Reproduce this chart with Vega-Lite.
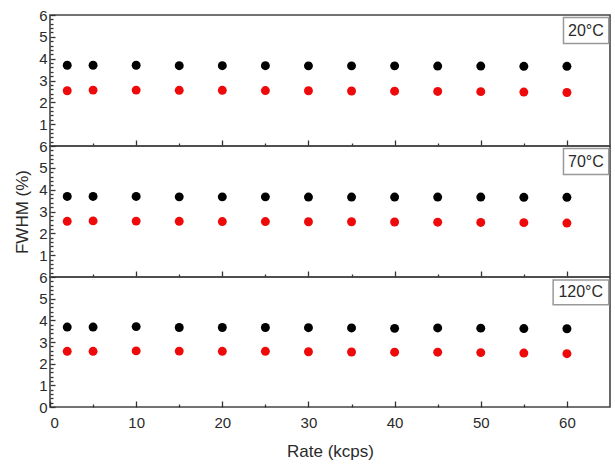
{
  "$schema": "https://vega.github.io/schema/vega-lite/v6.json",
  "autosize": {"type": "pad"},
  "padding": {"left": 12, "top": 7, "right": 2, "bottom": 3},
  "background": "white",
  "config": {
    "view": {"stroke": "#444", "strokeWidth": 1.6},
    "font": "Liberation Sans",
    "axis": {"labelFont": "Liberation Sans", "titleFont": "Liberation Sans", "labelColor": "#2a2a2a", "titleColor": "#2a2a2a", "labelFontSize": 15, "titleFontSize": 17, "titleFontWeight": "normal", "tickColor": "#333", "tickWidth": 1.3, "grid": false, "domain": false}
  },
  "datasets": {
    "pts": [
      {"T": "20°C", "series": "a", "rate": 2, "fwhm": 3.70},
      {"T": "20°C", "series": "a", "rate": 5, "fwhm": 3.70},
      {"T": "20°C", "series": "a", "rate": 10, "fwhm": 3.70},
      {"T": "20°C", "series": "a", "rate": 15, "fwhm": 3.68},
      {"T": "20°C", "series": "a", "rate": 20, "fwhm": 3.68},
      {"T": "20°C", "series": "a", "rate": 25, "fwhm": 3.68},
      {"T": "20°C", "series": "a", "rate": 30, "fwhm": 3.67},
      {"T": "20°C", "series": "a", "rate": 35, "fwhm": 3.67},
      {"T": "20°C", "series": "a", "rate": 40, "fwhm": 3.67},
      {"T": "20°C", "series": "a", "rate": 45, "fwhm": 3.66},
      {"T": "20°C", "series": "a", "rate": 50, "fwhm": 3.66},
      {"T": "20°C", "series": "a", "rate": 55, "fwhm": 3.65},
      {"T": "20°C", "series": "a", "rate": 60, "fwhm": 3.65},
      {"T": "20°C", "series": "b", "rate": 2, "fwhm": 2.53},
      {"T": "20°C", "series": "b", "rate": 5, "fwhm": 2.56},
      {"T": "20°C", "series": "b", "rate": 10, "fwhm": 2.56},
      {"T": "20°C", "series": "b", "rate": 15, "fwhm": 2.55},
      {"T": "20°C", "series": "b", "rate": 20, "fwhm": 2.55},
      {"T": "20°C", "series": "b", "rate": 25, "fwhm": 2.54},
      {"T": "20°C", "series": "b", "rate": 30, "fwhm": 2.53},
      {"T": "20°C", "series": "b", "rate": 35, "fwhm": 2.52},
      {"T": "20°C", "series": "b", "rate": 40, "fwhm": 2.51},
      {"T": "20°C", "series": "b", "rate": 45, "fwhm": 2.50},
      {"T": "20°C", "series": "b", "rate": 50, "fwhm": 2.49},
      {"T": "20°C", "series": "b", "rate": 55, "fwhm": 2.47},
      {"T": "20°C", "series": "b", "rate": 60, "fwhm": 2.45},
      {"T": "70°C", "series": "a", "rate": 2, "fwhm": 3.69},
      {"T": "70°C", "series": "a", "rate": 5, "fwhm": 3.69},
      {"T": "70°C", "series": "a", "rate": 10, "fwhm": 3.69},
      {"T": "70°C", "series": "a", "rate": 15, "fwhm": 3.67},
      {"T": "70°C", "series": "a", "rate": 20, "fwhm": 3.67},
      {"T": "70°C", "series": "a", "rate": 25, "fwhm": 3.67},
      {"T": "70°C", "series": "a", "rate": 30, "fwhm": 3.66},
      {"T": "70°C", "series": "a", "rate": 35, "fwhm": 3.66},
      {"T": "70°C", "series": "a", "rate": 40, "fwhm": 3.66},
      {"T": "70°C", "series": "a", "rate": 45, "fwhm": 3.66},
      {"T": "70°C", "series": "a", "rate": 50, "fwhm": 3.66},
      {"T": "70°C", "series": "a", "rate": 55, "fwhm": 3.65},
      {"T": "70°C", "series": "a", "rate": 60, "fwhm": 3.65},
      {"T": "70°C", "series": "b", "rate": 2, "fwhm": 2.55},
      {"T": "70°C", "series": "b", "rate": 5, "fwhm": 2.57},
      {"T": "70°C", "series": "b", "rate": 10, "fwhm": 2.56},
      {"T": "70°C", "series": "b", "rate": 15, "fwhm": 2.55},
      {"T": "70°C", "series": "b", "rate": 20, "fwhm": 2.54},
      {"T": "70°C", "series": "b", "rate": 25, "fwhm": 2.54},
      {"T": "70°C", "series": "b", "rate": 30, "fwhm": 2.53},
      {"T": "70°C", "series": "b", "rate": 35, "fwhm": 2.53},
      {"T": "70°C", "series": "b", "rate": 40, "fwhm": 2.52},
      {"T": "70°C", "series": "b", "rate": 45, "fwhm": 2.51},
      {"T": "70°C", "series": "b", "rate": 50, "fwhm": 2.50},
      {"T": "70°C", "series": "b", "rate": 55, "fwhm": 2.49},
      {"T": "70°C", "series": "b", "rate": 60, "fwhm": 2.47},
      {"T": "120°C", "series": "a", "rate": 2, "fwhm": 3.69},
      {"T": "120°C", "series": "a", "rate": 5, "fwhm": 3.69},
      {"T": "120°C", "series": "a", "rate": 10, "fwhm": 3.71},
      {"T": "120°C", "series": "a", "rate": 15, "fwhm": 3.67},
      {"T": "120°C", "series": "a", "rate": 20, "fwhm": 3.67},
      {"T": "120°C", "series": "a", "rate": 25, "fwhm": 3.67},
      {"T": "120°C", "series": "a", "rate": 30, "fwhm": 3.66},
      {"T": "120°C", "series": "a", "rate": 35, "fwhm": 3.65},
      {"T": "120°C", "series": "a", "rate": 40, "fwhm": 3.63},
      {"T": "120°C", "series": "a", "rate": 45, "fwhm": 3.65},
      {"T": "120°C", "series": "a", "rate": 50, "fwhm": 3.64},
      {"T": "120°C", "series": "a", "rate": 55, "fwhm": 3.62},
      {"T": "120°C", "series": "a", "rate": 60, "fwhm": 3.61},
      {"T": "120°C", "series": "b", "rate": 2, "fwhm": 2.57},
      {"T": "120°C", "series": "b", "rate": 5, "fwhm": 2.57},
      {"T": "120°C", "series": "b", "rate": 10, "fwhm": 2.59},
      {"T": "120°C", "series": "b", "rate": 15, "fwhm": 2.58},
      {"T": "120°C", "series": "b", "rate": 20, "fwhm": 2.57},
      {"T": "120°C", "series": "b", "rate": 25, "fwhm": 2.57},
      {"T": "120°C", "series": "b", "rate": 30, "fwhm": 2.55},
      {"T": "120°C", "series": "b", "rate": 35, "fwhm": 2.54},
      {"T": "120°C", "series": "b", "rate": 40, "fwhm": 2.53},
      {"T": "120°C", "series": "b", "rate": 45, "fwhm": 2.53},
      {"T": "120°C", "series": "b", "rate": 50, "fwhm": 2.51},
      {"T": "120°C", "series": "b", "rate": 55, "fwhm": 2.49},
      {"T": "120°C", "series": "b", "rate": 60, "fwhm": 2.46}
    ]
  },
  "vconcat": [
    {
      "width": 560, "height": 131,
      "resolve": {"axis": {"x": "independent", "y": "independent"}},
      "layer": [
        {
          "data": {"name": "pts"},
          "transform": [{"filter": "datum.T == '20°C'"}],
          "mark": {"type": "point", "filled": true, "size": 80, "opacity": 1},
          "encoding": {
            "x": {"field": "rate", "type": "quantitative", "scale": {"domain": [0, 65], "nice": false}, "axis": {"orient": "bottom", "values": [10, 20, 30, 40, 50, 60], "labels": false, "tickSize": -6, "title": null}},
            "y": {"field": "fwhm", "type": "quantitative", "scale": {"domain": [0, 6], "nice": false}, "axis": {"orient": "left", "values": [1, 2, 3, 4, 5, 6], "tickSize": -5, "labelPadding": 8, "title": null}},
            "color": {"field": "series", "type": "nominal", "scale": {"domain": ["a", "b"], "range": ["#000000", "#ee0a0a"]}, "legend": null}
          }
        },
        {
          "data": {"values": [{}]},
          "mark": {"type": "rect", "fill": "white", "stroke": "#999", "strokeWidth": 1.5},
          "encoding": {
            "x": {"datum": 59.6, "type": "quantitative", "axis": {"orient": "bottom", "values": [5, 15, 25, 35, 45, 55], "labels": false, "tickSize": -3, "title": null}},
            "x2": {"datum": 64.85},
            "y": {"datum": 5.88, "type": "quantitative", "axis": {"orient": "left", "values": [0.2,0.4,0.6,0.8,1.2,1.4,1.6,1.8,2.2,2.4,2.6,2.8,3.2,3.4,3.6,3.8,4.2,4.4,4.6,4.8,5.2,5.4,5.6,5.8], "labels": false, "tickSize": -3, "title": null}},
            "y2": {"datum": 4.7}
          }
        },
        {
          "data": {"values": [{}]},
          "mark": {"type": "text", "text": "20°C", "align": "center", "baseline": "middle", "fontSize": 16, "color": "#2a2a2a", "font": "Liberation Sans"},
          "encoding": {
            "x": {"datum": 62.2, "type": "quantitative", "axis": null},
            "y": {"datum": 5.29, "type": "quantitative", "axis": null}
          }
        }
      ]
    },
    {
      "width": 560, "height": 131,
      "resolve": {"axis": {"x": "independent", "y": "independent"}},
      "layer": [
        {
          "data": {"name": "pts"},
          "transform": [{"filter": "datum.T == '70°C'"}],
          "mark": {"type": "point", "filled": true, "size": 80, "opacity": 1},
          "encoding": {
            "x": {"field": "rate", "type": "quantitative", "scale": {"domain": [0, 65], "nice": false}, "axis": {"orient": "bottom", "values": [10, 20, 30, 40, 50, 60], "labels": false, "tickSize": -6, "title": null}},
            "y": {"field": "fwhm", "type": "quantitative", "scale": {"domain": [0, 6], "nice": false}, "axis": {"orient": "left", "values": [1, 2, 3, 4, 5, 6], "tickSize": -5, "labelPadding": 8, "title": "FWHM (%)", "titlePadding": 7}},
            "color": {"field": "series", "type": "nominal", "scale": {"domain": ["a", "b"], "range": ["#000000", "#ee0a0a"]}, "legend": null}
          }
        },
        {
          "data": {"values": [{}]},
          "mark": {"type": "rect", "fill": "white", "stroke": "#999", "strokeWidth": 1.5},
          "encoding": {
            "x": {"datum": 59.6, "type": "quantitative", "axis": {"orient": "bottom", "values": [5, 15, 25, 35, 45, 55], "labels": false, "tickSize": -3, "title": null}},
            "x2": {"datum": 64.85},
            "y": {"datum": 5.88, "type": "quantitative", "axis": {"orient": "left", "values": [0.2,0.4,0.6,0.8,1.2,1.4,1.6,1.8,2.2,2.4,2.6,2.8,3.2,3.4,3.6,3.8,4.2,4.4,4.6,4.8,5.2,5.4,5.6,5.8], "labels": false, "tickSize": -3, "title": null}},
            "y2": {"datum": 4.7}
          }
        },
        {
          "data": {"values": [{}]},
          "mark": {"type": "text", "text": "70°C", "align": "center", "baseline": "middle", "fontSize": 16, "color": "#2a2a2a", "font": "Liberation Sans"},
          "encoding": {
            "x": {"datum": 62.2, "type": "quantitative", "axis": null},
            "y": {"datum": 5.29, "type": "quantitative", "axis": null}
          }
        }
      ]
    },
    {
      "width": 560, "height": 130,
      "resolve": {"axis": {"x": "independent", "y": "independent"}},
      "layer": [
        {
          "data": {"name": "pts"},
          "transform": [{"filter": "datum.T == '120°C'"}],
          "mark": {"type": "point", "filled": true, "size": 80, "opacity": 1},
          "encoding": {
            "x": {"field": "rate", "type": "quantitative", "scale": {"domain": [0, 65], "nice": false}, "axis": {"orient": "bottom", "values": [0, 10, 20, 30, 40, 50, 60], "tickSize": -6, "labelPadding": 14, "title": "Rate (kcps)", "titlePadding": 13}},
            "y": {"field": "fwhm", "type": "quantitative", "scale": {"domain": [0, 6], "nice": false}, "axis": {"orient": "left", "values": [0, 1, 2, 3, 4, 5, 6], "tickSize": -5, "labelPadding": 8, "title": null}},
            "color": {"field": "series", "type": "nominal", "scale": {"domain": ["a", "b"], "range": ["#000000", "#ee0a0a"]}, "legend": null}
          }
        },
        {
          "data": {"values": [{}]},
          "mark": {"type": "rect", "fill": "white", "stroke": "#999", "strokeWidth": 1.5},
          "encoding": {
            "x": {"datum": 58.4, "type": "quantitative", "axis": {"orient": "bottom", "values": [5, 15, 25, 35, 45, 55], "labels": false, "tickSize": -3, "title": null}},
            "x2": {"datum": 64.85},
            "y": {"datum": 5.86, "type": "quantitative", "axis": {"orient": "left", "values": [0.2,0.4,0.6,0.8,1.2,1.4,1.6,1.8,2.2,2.4,2.6,2.8,3.2,3.4,3.6,3.8,4.2,4.4,4.6,4.8,5.2,5.4,5.6,5.8], "labels": false, "tickSize": -3, "title": null}},
            "y2": {"datum": 4.72}
          }
        },
        {
          "data": {"values": [{}]},
          "mark": {"type": "text", "text": "120°C", "align": "center", "baseline": "middle", "fontSize": 16, "color": "#2a2a2a", "font": "Liberation Sans"},
          "encoding": {
            "x": {"datum": 61.6, "type": "quantitative", "axis": null},
            "y": {"datum": 5.29, "type": "quantitative", "axis": null}
          }
        }
      ]
    }
  ],
  "spacing": 0,
  "bounds": "flush"
}
